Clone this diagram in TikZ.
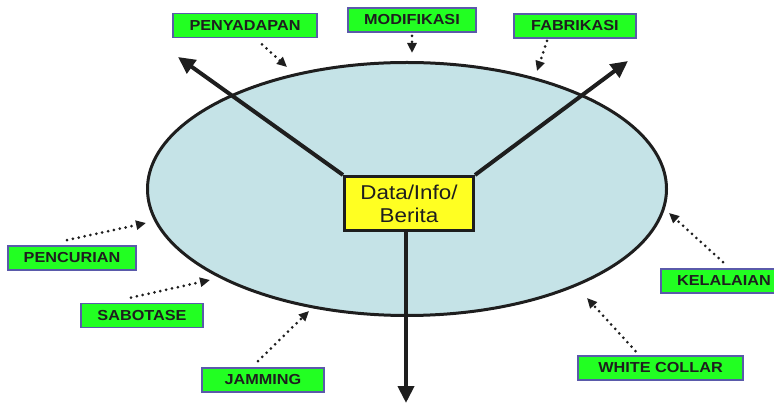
\documentclass[tikz,border=0pt]{standalone}
\usepackage{fontspec}
\setmainfont{Liberation Sans}[FakeStretch=1.12]
\usetikzlibrary{arrows.meta,shapes.geometric}
\definecolor{LabelGreen}{HTML}{22FF22}
\definecolor{LabelEdge}{HTML}{5A5AAA}
\definecolor{DiscBlue}{HTML}{C5E3E7}
\definecolor{CoreYellow}{HTML}{FFFF22}
\definecolor{InkDark}{HTML}{1E1E1E}

\begin{document}
\begin{tikzpicture}[x=1pt,y=-1pt,
  threat/.style={draw=LabelEdge,line width=1.8pt,fill=LabelGreen,minimum width=122pt,minimum height=24pt,
    inner xsep=16pt,inner ysep=0pt,text=InkDark,font=\fontsize{14.5}{16}\selectfont\bfseries},
  attack/.style={InkDark,line width=3pt,line cap=round,dash pattern=on 0pt off 6pt,
    -{Triangle[length=10pt,width=9pt]}},
  flow/.style={InkDark,line width=4pt,-{Triangle[length=17pt,width=16pt]}}]
  \useasboundingbox (0,0) rectangle (774,403);

  % the system and its core
  \node[ellipse,draw=InkDark,line width=3pt,fill=DiscBlue,minimum width=519pt,minimum height=253pt,inner sep=0pt] (disc) at (407,189) {};
  \node[draw=InkDark,line width=3pt,fill=CoreYellow,minimum width=129pt,minimum height=54pt,inner sep=0pt,
    align=center,text=InkDark,font=\fontsize{20}{23}\selectfont] (core) at (409,203.5) {Data/Info/\\Berita};

  \coordinate (outL) at (178,57);
  \coordinate (outR) at (628,61);
  \coordinate (outD) at (406,403);
  \draw[flow] (core.north west) -- (outL);
  \draw[flow] (core.north east) -- (outR);
  \draw[flow] (core.south -| outD) -- (outD);

  % threats
  \node[threat,minimum width=144pt] (pen) at (245,25.5) {PENYADAPAN};
  \node[threat] (mod) at (412,20) {MODIFIKASI};
  \node[threat] (fab) at (575,26) {FABRIKASI};
  \node[threat] (pcr) at (72,258) {PENCURIAN};
  \node[threat] (sab) at (142,315.5) {SABOTASE};
  \node[threat] (jam) at (263,380) {JAMMING};
  \node[threat] (kel) at (724,281) {KELALAIAN};
  \node[threat,minimum width=165pt] (wcl) at (660.5,368) {WHITE COLLAR};

  \coordinate (hitPen) at (287,67);
  \coordinate (hitMod) at (412,53);
  \coordinate (hitFab) at (537,71);
  \coordinate (hitPcr) at (146,223);
  \coordinate (hitSab) at (210,280);
  \coordinate (hitJam) at (309,311);
  \coordinate (hitKel) at (669,213);
  \coordinate (hitWcl) at (587,298);

  \draw[attack] ([xshift=17pt,yshift=-6pt]pen.south) -- (hitPen);
  \draw[attack] ([yshift=-3pt]mod.south) -- (hitMod);
  \draw[attack] ([xshift=-28pt,yshift=-2pt]fab.south) -- (hitFab);
  \draw[attack] ([xshift=-5pt,yshift=5pt]pcr.north) -- (hitPcr);
  \draw[attack] ([xshift=-11pt,yshift=5pt]sab.north) -- (hitSab);
  \draw[attack] ([xshift=-5pt,yshift=6pt]jam.north) -- (hitJam);
  \draw[attack] ([xshift=-1pt,yshift=6pt]kel.north) -- (hitKel);
  \draw[attack] ([xshift=-25pt,yshift=4pt]wcl.north) -- (hitWcl);
\end{tikzpicture}
\end{document}
